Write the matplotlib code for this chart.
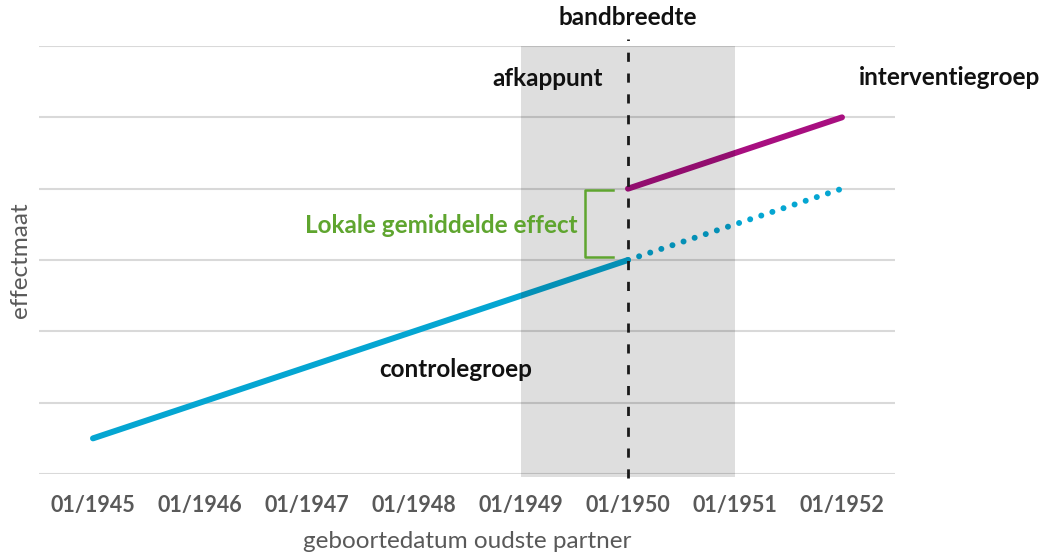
import matplotlib
matplotlib.use("Agg")
import matplotlib.pyplot as plt

# data
years = ['01/1945', '01/1946', '01/1947', '01/1948',
         '01/1949', '01/1950', '01/1951', '01/1952']
control_x = [0, 5]
control_y = [0.5, 3]
counterfactual_x = [5, 7]
counterfactual_y = [3, 4]
intervention_x = [5, 7]
intervention_y = [4, 5]
band = [4, 6]          # bandbreedte: 01/1949 - 01/1951
cutoff = 5             # afkappunt: 01/1950
y_ticks = [0, 1, 2, 3, 4, 5, 6]

CYAN = '#05A6D2'
MAGENTA = '#A80F80'
GREEN = '#5FA52F'
GREY_TXT = '#595959'

plt.rcParams['font.family'] = ['Lato', 'DejaVu Sans']

fig = plt.figure(figsize=(10.47, 5.59), dpi=100)
ax = fig.add_axes([0.0377, 0.152, 0.8176, 0.7657])

ax.set_xlim(-0.5, 7.5)
ax.set_ylim(0, 6)

# grid lines
for y in y_ticks:
    ax.axhline(y, color='#D9D9D9', lw=1.5, zorder=1)

# lines
ax.plot(control_x, control_y, color=CYAN, lw=4.3,
        solid_capstyle='round', zorder=2)
ax.plot(counterfactual_x, counterfactual_y, color=CYAN, lw=4.3,
        linestyle=(0, (0.01, 1.95)), dash_capstyle='round', zorder=2)
ax.plot(intervention_x, intervention_y, color=MAGENTA, lw=4.3,
        solid_capstyle='round', zorder=2)

# band overlay (on top of lines, semi transparent)
ax.fill_between(band, [-0.04, -0.04], [6, 6], color='black', alpha=0.13,
                lw=0, zorder=3, clip_on=False)

# cutoff dashed line
ax.plot([cutoff, cutoff], [-0.06, 6.1], color='#1A1A1A', lw=2,
        linestyle=(0, (3.3, 4.2)), zorder=4, clip_on=False)

# bracket for local average effect
bx = 4.6
ax.plot([4.86, bx, bx, 4.86], [3.98, 3.98, 3.04, 3.04], color=GREEN,
        lw=1.8, zorder=5, solid_joinstyle='round')

# annotations
ax.text(cutoff, 6.4, 'bandbreedte', ha='center', va='center',
        fontsize=17.5, fontweight='bold', color='#111111', zorder=6,
        clip_on=False)
ax.text(4.25, 5.55, 'afkappunt', ha='center', va='center',
        fontsize=17.5, fontweight='bold', color='#111111', zorder=6)
ax.text(8.0, 5.56, 'interventiegroep', ha='center', va='center',
        fontsize=17.5, fontweight='bold', color='#111111', zorder=6,
        clip_on=False)
ax.text(4.53, 3.49, 'Lokale gemiddelde effect', ha='right', va='center',
        fontsize=17.5, fontweight='bold', color=GREEN, zorder=6)
ax.text(3.39, 1.47, 'controlegroep', ha='center', va='center',
        fontsize=17.5, fontweight='bold', color='#111111', zorder=6)

# axes styling
ax.set_xticks(range(len(years)))
ax.set_xticklabels(years, fontsize=15.5, fontweight='bold', color=GREY_TXT)
ax.set_yticks([])
ax.tick_params(axis='x', length=0, pad=15)
for s in ax.spines.values():
    s.set_visible(False)

ax.set_xlabel('geboortedatum oudste partner', fontsize=17.5,
              color=GREY_TXT, labelpad=11)
ax.set_ylabel('effectmaat', fontsize=17.5, color=GREY_TXT, labelpad=6)

fig.savefig('out.png', dpi=100)
